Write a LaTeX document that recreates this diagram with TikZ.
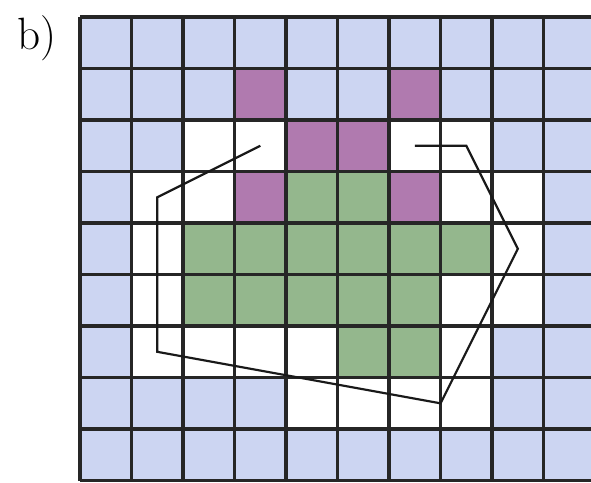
\documentclass[tikz,border=0pt]{standalone}
\usepackage{tikz}
\definecolor{outcell}{RGB}{204,213,242}
\definecolor{edgecell}{RGB}{176,122,175}
\definecolor{incell}{RGB}{148,183,141}
\tikzset{cellline/.style = {line width=1.9pt, black!85},
  polyline/.style = {line width=1.2pt, black!90, line join=miter}}

\begin{document}
\begin{tikzpicture}[x=1cm, y=-1cm]
      \useasboundingbox (-1.553,-0.33) rectangle (9.92,9.03);
      % outside cells
      \foreach \c in {0,...,9} {
        \fill[outcell] (\c,0) rectangle ++(1,1);
        \fill[outcell] (\c,8) rectangle ++(1,1);
      }
      \foreach \c/\r in {0/1,1/1,2/1,4/1,5/1,7/1,8/1,9/1, 0/2,1/2,8/2,9/2,
          0/3,9/3, 0/4,9/4, 0/5,9/5, 0/6,8/6,9/6, 0/7,1/7,2/7,3/7,8/7,9/7}
        \fill[outcell] (\c,\r) rectangle ++(1,1);
      % boundary cells
      \foreach \c/\r in {3/1,6/1,4/2,5/2,3/3,6/3}
        \fill[edgecell] (\c,\r) rectangle ++(1,1);
      % inside cells
      \foreach \c/\r in {4/3,5/3, 2/4,3/4,4/4,5/4,6/4,7/4,
          2/5,3/5,4/5,5/5,6/5, 5/6,6/6}
        \fill[incell] (\c,\r) rectangle ++(1,1);
      \draw[cellline] (0,0) grid (10,9);
      \draw[polyline] (3.5,2.5) -- (1.5,3.5) -- (1.5,6.5) -- (7,7.5)
        -- (8.5,4.5) -- (7.5,2.5) -- (6.5,2.5);
      \node (label) at (-0.83,0.42) {\fontsize{25}{30}\selectfont b)};
    \end{tikzpicture}
\end{document}
